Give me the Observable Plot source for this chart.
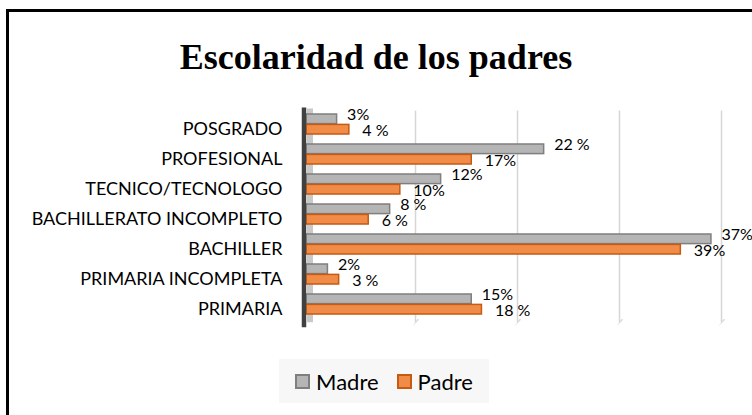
<!DOCTYPE html>
<html>
<head>
<meta charset="utf-8">
<script src="https://cdn.jsdelivr.net/npm/d3@7"></script>
<script src="https://cdn.jsdelivr.net/npm/@observablehq/plot@0.6"></script>
<style>
  html, body { margin: 0; padding: 0; background: #fff; overflow: hidden; }
  #wrap { position: relative; width: 752px; height: 415px; overflow: hidden; background: #fff; }
  #frame { position: absolute; left: 6px; top: 9px; width: 800px; height: 500px; border: 3px solid #000; box-sizing: border-box; }
  #title { position: absolute; left: 0; top: 37px; width: 752px; text-align: center; font-family: "Liberation Serif", serif; font-weight: bold; font-size: 36px; line-height: 40px; color: #000; }
  #chart { position: absolute; left: 0; top: 0; }
  #legend { position: absolute; left: 279px; top: 359px; width: 210px; height: 44px; background: #f7f7f7; display: flex; align-items: center; justify-content: center; font-family: Lato, sans-serif; font-size: 22px; color: #000; }
  .item { display: flex; align-items: center; margin: 0 9px; }
  .sw { width: 11px; height: 11px; border: 2px solid; margin-right: 6px; }
</style>
</head>
<body>
<div id="wrap">
  <div id="frame"></div>
  <div id="chart"></div>
  <div id="title">Escolaridad de los padres</div>
  <div id="legend"></div>
</div>
<script>
const categories = ["POSGRADO", "PROFESIONAL", "TECNICO/TECNOLOGO", "BACHILLERATO INCOMPLETO", "BACHILLER", "PRIMARIA INCOMPLETA", "PRIMARIA"];
const madre = [3.0, 23.3, 13.2, 8.2, 39.7, 2.1, 16.2];
const padre = [4.2, 16.2, 9.2, 6.1, 36.7, 3.2, 17.2];
const madreLabels = ["3%", "22 %", "12%", "8 %", "37%", "2%", "15%"];
const padreLabels = ["4 %", "17%", "10%", "6 %", "39%", "3 %", "18 %"];
const xTicks = [10, 20, 30, 40];
const series = ["Madre", "Padre"];
const colors = { Madre: { fill: "#b5b5b5", stroke: "#7f7f7f" }, Padre: { fill: "#f08c48", stroke: "#c55a11" } };

const rows = categories.map((c, i) => ({ cat: c, madre: madre[i], padre: padre[i], ml: madreLabels[i], pl: padreLabels[i] }));

const chart = Plot.plot({
  width: 752,
  height: 415,
  marginLeft: 306,
  marginRight: 38,
  marginTop: 106.6,
  marginBottom: 92.8,
  style: { fontFamily: "Lato, sans-serif", fontSize: "16px", background: "transparent", color: "#000" },
  x: { domain: [0, 40], axis: null },
  y: { domain: categories, padding: 0, axis: null, label: null },
  marks: [
    Plot.ruleX(xTicks, { x: d => d, dx: 7, stroke: "#d6d6d6", strokeWidth: 1.5, insetTop: 4 }),
    Plot.vector(xTicks, { x: d => d, frameAnchor: "bottom", dx: 7, rotate: 220, length: 9, shape: "spike", r: 0.8, fill: "#d6d6d6", stroke: "none" }),
    Plot.ruleX([0], { dx: 3.5, stroke: "#c9c9c9", strokeWidth: 6, insetTop: 2 }),
    Plot.barX(rows, { y: "cat", x: "madre", insetTop: 5, insetBottom: 15.4, fill: colors.Madre.fill, stroke: colors.Madre.stroke, strokeWidth: 1.5 }),
    Plot.barX(rows, { y: "cat", x: "padre", insetTop: 15.4, insetBottom: 5, fill: colors.Padre.fill, stroke: colors.Padre.stroke, strokeWidth: 1.5 }),
    Plot.ruleX([0], { dx: -2.5, stroke: "#404040", strokeWidth: 4.5, insetTop: 1, insetBottom: -5 }),
    Plot.text(rows, { y: "cat", x: "madre", text: "ml", dx: 10, dy: -10, textAnchor: "start", fontSize: 16, fill: "#000" }),
    Plot.text(rows, { y: "cat", x: "padre", text: "pl", dx: 13, dy: 6.5, textAnchor: "start", fontSize: 16, fill: "#000" }),
    Plot.axisY({ tickSize: 0, tickPadding: 24, dy: 5, fontSize: 18, textAnchor: "end", fill: "#000", label: null })
  ]
});
document.getElementById("chart").appendChild(chart);

const legend = document.getElementById("legend");
series.forEach(s => {
  const it = document.createElement("div");
  it.className = "item";
  const sw = document.createElement("div");
  sw.className = "sw";
  sw.style.background = colors[s].fill;
  sw.style.borderColor = colors[s].stroke;
  const t = document.createElement("span");
  t.textContent = s;
  it.appendChild(sw);
  it.appendChild(t);
  legend.appendChild(it);
});
</script>
</body>
</html>
